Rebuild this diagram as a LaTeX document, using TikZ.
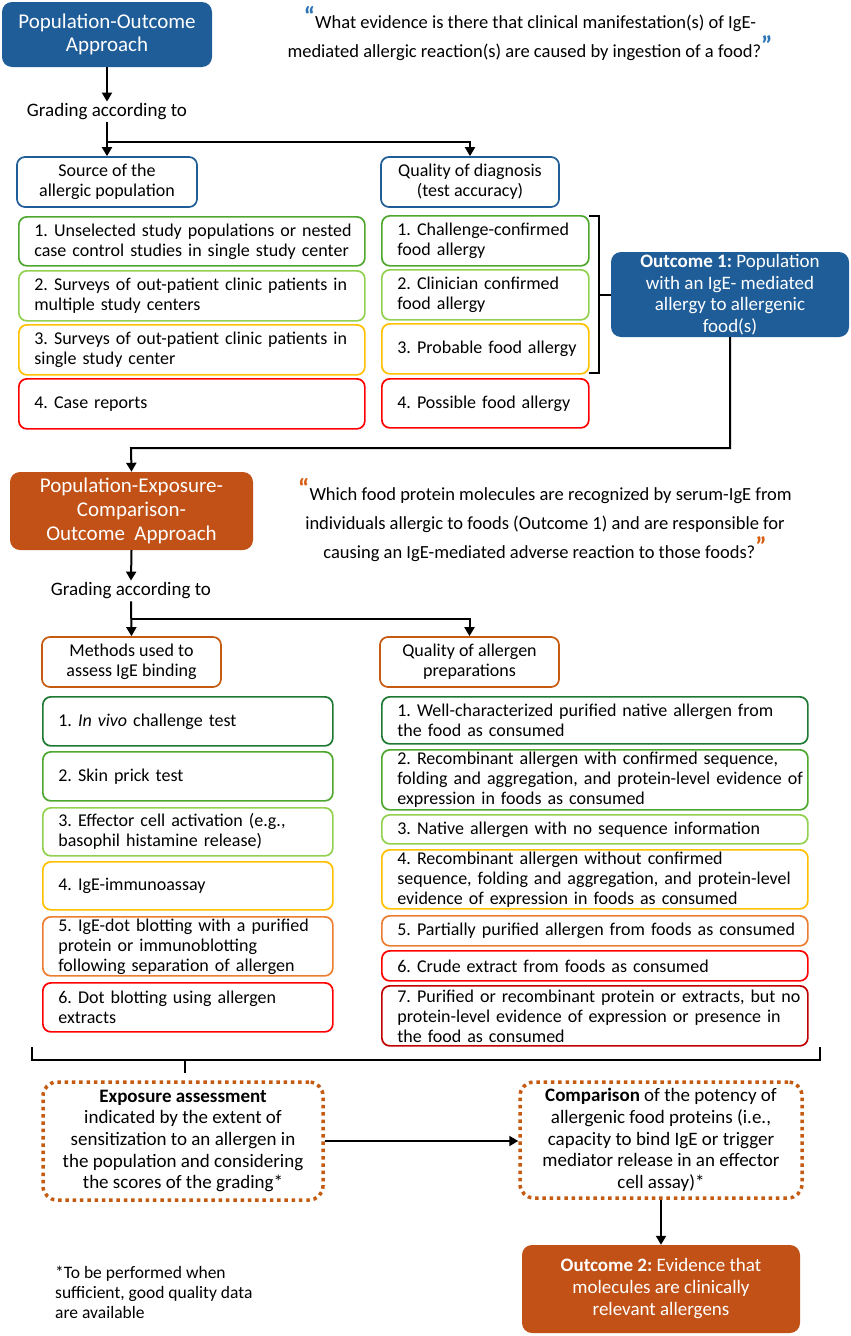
\documentclass[tikz,border=0pt]{standalone}
\usepackage{fontspec}
\setmainfont{Carlito}
\usetikzlibrary{arrows.meta}
\definecolor{blueF}{RGB}{31,93,153}
\definecolor{brownF}{RGB}{193,81,22}
\definecolor{brownB}{RGB}{197,90,17}
\definecolor{gDark}{RGB}{30,120,50}
\definecolor{gMid}{RGB}{78,167,46}
\definecolor{gLight}{RGB}{146,208,80}
\definecolor{cYel}{RGB}{255,192,0}
\definecolor{cOra}{RGB}{237,125,49}
\definecolor{cRed}{RGB}{255,0,0}
\definecolor{cDRed}{RGB}{192,0,0}
\definecolor{qBlue}{RGB}{46,117,182}
\definecolor{qOra}{RGB}{215,95,20}
\frenchspacing
\hyphenpenalty=10000
\exhyphenpenalty=10000
\newcommand\fsz[2]{\fontsize{#1pt}{#2pt}\selectfont}
\newcommand\lin[1]{\mbox{#1}}
\newcommand\qop[1]{{\color{#1}\fontsize{26pt}{26pt}\selectfont\bfseries\raisebox{3pt}{“}}}
\newcommand\qcl[1]{{\color{#1}\fontsize{26pt}{26pt}\selectfont\bfseries\raisebox{3pt}{”}}}
\begin{document}
\begin{tikzpicture}[x=1pt,y=-1pt,
  filled/.style={rounded corners=10pt, text=white, align=center, inner sep=0pt},
  hdr/.style={draw, line width=1.7pt, rounded corners=8pt, align=center, inner sep=0pt, font=\fsz{18}{20}},
  lbox/.style={draw, line width=1.7pt, rounded corners=8pt, fill=white, align=left, inner xsep=15.5pt, inner ysep=0pt, anchor=north west, font=\fsz{18}{20}},
  quote/.style={align=center, inner sep=0pt, font=\fsz{18.5}{29}},
  grade/.style={inner sep=2pt, font=\fsz{19}{22}},
  dotbox/.style={draw=brownB, line width=3.5pt, dash pattern=on 3.5pt off 3.8pt, rounded corners=14pt, align=center, inner sep=0pt, font=\fsz{19}{21.7}},
  arr/.style={line width=2pt, -{Triangle[width=10pt,length=9pt]}},
  br/.style={line width=2pt}
]
\useasboundingbox (0,0) rectangle (851,1336);

% ---------------- top part ----------------
\node[filled, fill=blueF, minimum width=210pt, minimum height=65pt, font=\fsz{21}{23}] (po) at (107,34.5) {Population-Outcome\\Approach};
\node[quote] (q1) at (530,33.5) {\qop{qBlue}What evidence is there that clinical manifestation(s) of IgE-\\mediated allergic reaction(s) are caused by ingestion of a food?\qcl{qBlue}};

\node[grade] (g1) at (107,112) {Grading according to};
\node[hdr, draw=blueF, minimum width=180pt, minimum height=50pt] (src) at (107,182) {Source of the\\allergic population};
\node[hdr, draw=blueF, minimum width=178pt, minimum height=50pt] (diag) at (470,182) {Quality of diagnosis\\(test accuracy)};

\draw[arr] (po.south) -- (g1.north);
\draw[arr] (g1.south) -- (src.north);
\coordinate (b1) at (107,142);
\draw[arr] (b1) -| (diag.north);

\node[lbox, draw=gMid, text width=315pt, minimum height=49pt] (s1) at (18,216) {\lin{1. Unselected study populations or nested}\\\lin{case control studies in single study center}};
\node[lbox, draw=gLight, text width=315pt, minimum height=50pt] (s2) at (18,270) {\lin{2. Surveys of out-patient clinic patients in}\\\lin{multiple study centers}};
\node[lbox, draw=cYel, text width=315pt, minimum height=50pt] (s3) at (18,324) {\lin{3. Surveys of out-patient clinic patients in}\\\lin{single study center}};
\node[lbox, draw=cRed, text width=315pt, minimum height=50pt] (s4) at (18,378) {\lin{4. Case reports}};

\node[lbox, draw=gMid, text width=176pt, minimum height=50pt] (d1) at (381,215) {\lin{1. Challenge-confirmed}\\\lin{food allergy}};
\node[lbox, draw=gLight, text width=176pt, minimum height=50pt] (d2) at (381,269) {\lin{2. Clinician confirmed}\\\lin{food allergy}};
\node[lbox, draw=cYel, text width=176pt, minimum height=50pt] (d3) at (381,323) {\lin{3. Probable food allergy}};
\node[lbox, draw=cRed, text width=176pt, minimum height=49pt] (d4) at (381,378) {\lin{4. Possible food allergy}};

\node[filled, fill=blueF, minimum width=238pt, minimum height=85pt, font=\fsz{19}{21.5}] (o1) at (730,294.5) {\textbf{Outcome 1:} Population\\with an IgE- mediated\\allergy to allergenic\\food(s)};

\draw[br] (589,216) -- (599,216) -- (599,373) -- (589,373);
\coordinate (bm) at (599,294.5);
\draw[br] (bm) -- (o1.west);

\coordinate (c2) at (131,448);
\node[filled, fill=brownF, minimum width=243pt, minimum height=78pt, font=\fsz{21}{24}] (peco) at (131.5,511) {Population-Exposure-\\Comparison-\\Outcome~~Approach};
\draw[arr] (o1.south) |- (c2) -- (peco.north);

\node[quote] (q2) at (545,520) {\qop{qOra}Which food protein molecules are recognized by serum-IgE from\\individuals allergic to foods (Outcome 1) and are responsible for\\causing an IgE-mediated adverse reaction to those foods?\qcl{qOra}};

% ---------------- middle part ----------------
\node[grade] (g2) at (131,591) {Grading according to};
\node[hdr, draw=brownB, minimum width=179pt, minimum height=50pt] (meth) at (131.5,662) {Methods used to\\assess IgE binding};
\node[hdr, draw=brownB, minimum width=179pt, minimum height=50pt] (qa) at (469.5,662) {Quality of allergen\\preparations};
\draw[arr] (peco.south) -- (g2.north);
\draw[arr] (g2.south) -- (meth.north);
\coordinate (b2) at (131,619);
\draw[arr] (b2) -| (qa.north);

\node[lbox, draw=gDark, text width=259pt, minimum height=49pt] (m1) at (42,696) {\lin{1. \textit{In vivo} challenge test}};
\node[lbox, draw=gMid, text width=259pt, minimum height=49pt] (m2) at (42,751) {\lin{2. Skin prick test}};
\node[lbox, draw=gLight, text width=259pt, minimum height=48pt] (m3) at (42,807) {\lin{3. Effector cell activation (e.g.,}\\\lin{basophil histamine release)}};
\node[lbox, draw=cYel, text width=259pt, minimum height=48pt] (m4) at (42,861) {\lin{4. IgE-immunoassay}};
\node[lbox, draw=cOra, text width=259pt, minimum height=59pt] (m5) at (42,916) {\lin{5. IgE-dot blotting with a purified}\\\lin{protein or immunoblotting}\\\lin{following separation of allergen}};
\node[lbox, draw=cRed, text width=259pt, minimum height=49pt] (m6) at (42,982) {\lin{6. Dot blotting using allergen}\\\lin{extracts}};

\node[lbox, draw=gDark, text width=395pt, minimum height=47pt] (p1) at (381,696) {\lin{1. Well-characterized purified native allergen from}\\\lin{the food as consumed}};
\node[lbox, draw=gMid, text width=395pt, minimum height=60pt] (p2) at (381,749) {\lin{2. Recombinant allergen with confirmed sequence,}\\\lin{folding and aggregation, and protein-level evidence of}\\\lin{expression in foods as consumed}};
\node[lbox, draw=gLight, text width=395pt, minimum height=29pt] (p3) at (381,814) {\lin{3. Native allergen with no sequence information}};
\node[lbox, draw=cYel, text width=395pt, minimum height=59pt] (p4) at (381,849) {\lin{4. Recombinant allergen without confirmed}\\\lin{sequence, folding and aggregation, and protein-level}\\\lin{evidence of expression in foods as consumed}};
\node[lbox, draw=cOra, text width=395pt, minimum height=30pt] (p5) at (381,915) {\lin{5. Partially purified allergen from foods as consumed}};
\node[lbox, draw=cRed, text width=395pt, minimum height=30pt] (p6) at (381,950) {\lin{6. Crude extract from foods as consumed}};
\node[lbox, draw=cDRed, text width=395pt, minimum height=60pt] (p7) at (381,985) {\lin{7. Purified or recombinant protein or extracts, but no}\\\lin{protein-level evidence of expression or presence in}\\\lin{the food as consumed}};

% ---------------- bottom part ----------------
\draw[br] (32,1047) -- (32,1060) -- (820,1060) -- (820,1047);
\coordinate (bt) at (185,1073);
\draw[br] (185,1060) -- (bt);

\node[dotbox, minimum width=280pt, minimum height=118pt] (exp) at (183,1141) {\textbf{Exposure assessment}\\indicated by the extent of\\sensitization to an allergen in\\the population and considering\\the scores of the grading*};
\node[dotbox, minimum width=282pt, minimum height=116pt] (cmp) at (661,1140) {\textbf{Comparison} of the potency of\\allergenic food proteins (i.e.,\\capacity to bind IgE or trigger\\mediator release in an effector\\cell assay)*};
\draw[arr] (exp.east) -- (exp.east -| cmp.west);

\node[filled, fill=brownF, minimum width=278pt, minimum height=88pt, font=\fsz{19}{22}] (out2) at (661,1289) {\textbf{Outcome 2:} Evidence that\\molecules are clinically\\relevant allergens};
\draw[arr] (cmp.south) -- (out2.north);

\node[anchor=north west, align=left, inner sep=0pt, font=\fsz{17.5}{20}] (fn) at (55,1266) {*To be performed when\\sufficient, good quality data\\are available};
\end{tikzpicture}
\end{document}
